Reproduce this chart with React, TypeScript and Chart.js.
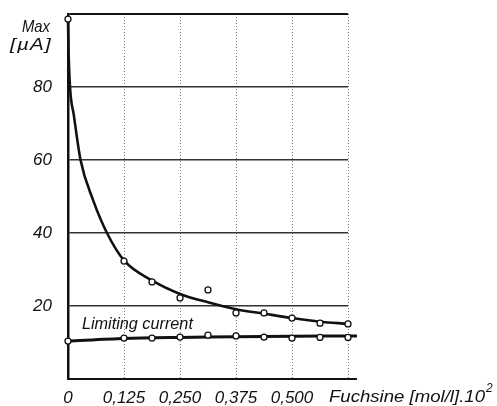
import React, { useEffect, useRef } from "react";
import { Chart, registerables } from "chart.js";

Chart.register(...registerables);

// Fitted curve (upper, maximum current)
const fitX = [0, 0.001, 0.0045, 0.013, 0.028, 0.056, 0.087, 0.125, 0.1875, 0.25, 0.3125, 0.375, 0.4375, 0.5, 0.5625, 0.625, 0.645];
const fitY = [98.6, 91, 80, 72.3, 60, 49, 40, 32.5, 27, 23.3, 21, 19.1, 17.9, 16.7, 15.7, 15.1, 14.9];

// Measured maximum points
const maxX = [0, 0.125, 0.1875, 0.25, 0.3125, 0.375, 0.4375, 0.5, 0.5625, 0.625];
const maxY = [98.6, 32.3, 26.6, 22.2, 24.4, 18.1, 18.1, 16.7, 15.3, 15.1];

// Limiting current line and points
const limLineX = [0, 0.125, 0.25, 0.375, 0.5, 0.645];
const limLineY = [10.4, 11.1, 11.4, 11.6, 11.7, 11.8];
const limX = [0, 0.125, 0.1875, 0.25, 0.3125, 0.375, 0.4375, 0.5, 0.5625, 0.625];
const limY = [10.4, 11.2, 11.2, 11.5, 12.0, 11.8, 11.5, 11.2, 11.4, 11.4];

// Axis ticks
const xTicks = [0, 0.125, 0.25, 0.375, 0.5, 0.625];
const xTickLabels = ["0", "0,125", "0,250", "0,375", "0,500", ""];
const yTicks = [0, 20, 40, 60, 80, 100];
const yTickLabels = ["", "20", "40", "60", "80", ""];

const FONT = "'Liberation Sans', Arial, sans-serif";

const pts = (xs: number[], ys: number[]) => xs.map((x, i) => ({ x, y: ys[i] }));

function fillFit(ctx: CanvasRenderingContext2D, text: string, x: number, y: number, width: number) {
  const w = ctx.measureText(text).width;
  ctx.save();
  ctx.translate(x, y);
  ctx.scale(width / w, 1);
  ctx.textAlign = "left";
  ctx.fillText(text, 0, 0);
  ctx.restore();
}

const textPlugin = {
  id: "textPlugin",
  afterDraw(chart: any) {
    const { ctx, chartArea, scales } = chart;
    ctx.save();
    ctx.fillStyle = "#111";
    ctx.textBaseline = "alphabetic";
    ctx.font = `italic 17px ${FONT}`;
    fillFit(ctx, "Max", 22, 32, 28);
    (ctx as any).letterSpacing = "1px";
    fillFit(ctx, "[\u00B5A]", 10, 50, 42);
    (ctx as any).letterSpacing = "0px";
    // x-axis title
    ctx.font = `italic 17px ${FONT}`;
    fillFit(ctx, "Fuchsine [mol/l].10", 329, 402, 156);
    ctx.font = `italic 12px ${FONT}`;
    ctx.fillText("2", 486, 392);
    // Limiting current label
    ctx.font = `italic 17px ${FONT}`;
    const lx = scales.x.getPixelForValue(0.031);
    const ly = scales.y.getPixelForValue(13.7);
    fillFit(ctx, "Limiting current", lx, ly, 111);
    // extension of bottom axis
    ctx.strokeStyle = "#111";
    ctx.lineWidth = 2;
    ctx.beginPath();
    ctx.moveTo(chartArea.right, chartArea.bottom);
    ctx.lineTo(scales.x.getPixelForValue(0.645), chartArea.bottom);
    ctx.stroke();
    ctx.restore();
  },
};

export default function App() {
  const ref = useRef<HTMLCanvasElement>(null);
  useEffect(() => {
    document.body.style.margin = "0";
    const chart = new Chart(ref.current as HTMLCanvasElement, {
      type: "line",
      data: {
        datasets: [
          {
            label: "max points",
            data: pts(maxX, maxY),
            showLine: false,
            pointRadius: 3,
            pointBackgroundColor: "#fff",
            pointBorderColor: "#111",
            pointBorderWidth: 1.3,
            clip: false as any,
          },
          {
            label: "limit points",
            data: pts(limX, limY),
            showLine: false,
            pointRadius: 3,
            pointBackgroundColor: "#fff",
            pointBorderColor: "#111",
            pointBorderWidth: 1.3,
            clip: false as any,
          },
          {
            label: "fit",
            data: pts(fitX, fitY),
            borderColor: "#111",
            borderWidth: 2.6,
            pointRadius: 0,
            cubicInterpolationMode: "monotone",
            clip: false as any,
          },
          {
            label: "limit",
            data: pts(limLineX, limLineY),
            borderColor: "#111",
            borderWidth: 3,
            pointRadius: 0,
            tension: 0.3,
            clip: false as any,
          },
        ],
      },
      options: {
        responsive: false,
        animation: false,
        layout: { padding: { left: 0, right: 149, top: 14, bottom: 0 } },
        plugins: { legend: { display: false }, tooltip: { enabled: false } },
        scales: {
          x: {
            type: "linear",
            min: 0,
            max: 0.625,
            afterBuildTicks: (s: any) => {
              s.ticks = xTicks.map((v) => ({ value: v }));
            },
            afterFit: (s: any) => {
              s.height = 27;
              s.paddingLeft = 0;
              s.paddingRight = 0;
            },
            ticks: {
              padding: 9,
              maxRotation: 0,
              autoSkip: false,
              color: "#111",
              font: { family: FONT, size: 17, style: "italic" },
              callback: (v: any) => {
                const i = xTicks.indexOf(Number(v));
                return i >= 0 ? xTickLabels[i] : "";
              },
            },
            grid: {
              color: (c: any) => (c.tick && c.tick.value === 0 ? "rgba(0,0,0,0)" : "#777"),
              lineWidth: 1,
              drawTicks: false,
            },
            border: { display: true, color: "#111", width: 2, dash: [1, 2] },
          },
          y: {
            type: "linear",
            min: 0,
            max: 100,
            afterBuildTicks: (s: any) => {
              s.ticks = yTicks.map((v) => ({ value: v }));
            },
            afterFit: (s: any) => {
              s.width = 68;
              s.paddingTop = 0;
              s.paddingBottom = 0;
            },
            ticks: {
              padding: 16,
              color: "#111",
              font: { family: FONT, size: 17, style: "italic" },
              callback: (v: any) => {
                const i = yTicks.indexOf(Number(v));
                return i >= 0 ? yTickLabels[i] : "";
              },
            },
            grid: {
              color: (c: any) => (c.tick && c.tick.value === 0 ? "rgba(0,0,0,0)" : c.tick && c.tick.value === 100 ? "#111" : "#333"),
              lineWidth: (c: any) => (c.tick && c.tick.value === 100 ? 2 : 1.5),
              drawTicks: false,
            },
            border: { display: true, color: "#111", width: 2.5 },
          },
        },
      },
      plugins: [textPlugin],
    });
    return () => chart.destroy();
  }, []);
  return (
    <div style={{ width: 497, height: 406 }}>
      <canvas ref={ref} width={497} height={406} style={{ display: "block" }} />
    </div>
  );
}
